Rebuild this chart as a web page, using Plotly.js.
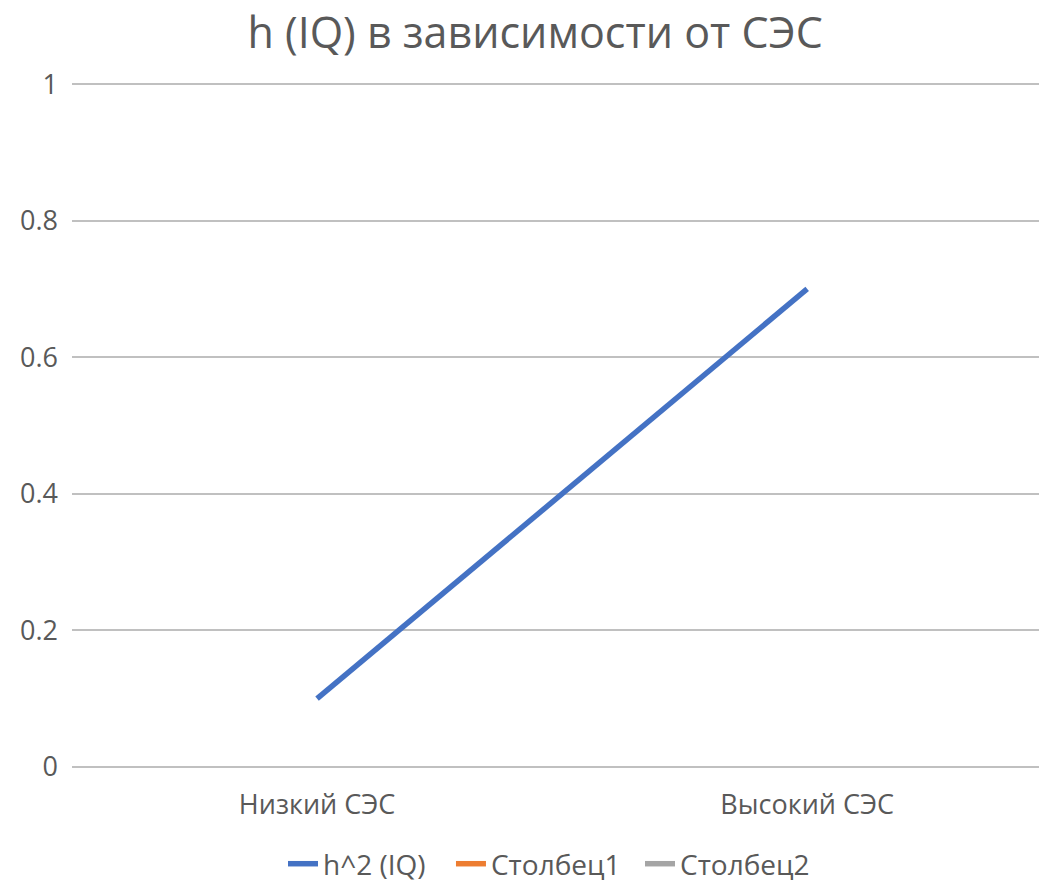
<!DOCTYPE html>
<html>
<head>
<meta charset="utf-8">
<script src="https://cdn.plot.ly/plotly-3.0.1.min.js"></script>
<style>html,body{margin:0;padding:0;background:#fff;}#chart{width:1039px;height:883px;}</style>
</head>
<body>
<div id="chart"></div>
<script>
const categories = ["Низкий СЭС", "Высокий СЭС"];
const h2IQ = [0.1, 0.7];
const stolbets1 = [null, null];
const stolbets2 = [null, null];
const seriesNames = ["h^2 (IQ)", "Столбец1", "Столбец2"];
const yTicks = [0, 0.2, 0.4, 0.6, 0.8, 1];
const yTickLabels = ["0", "0.2", "0.4", "0.6", "0.8", "1"];

const FONT = '"Open Sans", "Noto Sans", sans-serif';
const GREY = '#595959';

const traces = [
  {x: categories, y: h2IQ, name: seriesNames[0], type: 'scatter', mode: 'lines',
   line: {color: '#4472C4', width: 5.5}, legend: 'legend'},
  {x: categories, y: stolbets1, name: seriesNames[1], type: 'scatter', mode: 'lines',
   line: {color: '#ED7D31', width: 5.5}, legend: 'legend2'},
  {x: categories, y: stolbets2, name: seriesNames[2], type: 'scatter', mode: 'lines',
   line: {color: '#A5A5A5', width: 5.5}, legend: 'legend3'}
];

function legendAt(x) {
  return {orientation: 'h', x: x, xanchor: 'left', y: -0.1383, yanchor: 'middle',
          bgcolor: 'rgba(0,0,0,0)',
          font: {family: FONT, size: 28, color: GREY}, itemwidth: 30};
}

const layout = {
  width: 1039, height: 883,
  margin: {l: 72, r: 0, t: 82, b: 114, autoexpand: false},
  paper_bgcolor: '#fff', plot_bgcolor: '#fff',
  font: {family: FONT, color: GREY, size: 27},
  title: {text: 'h (IQ) в зависимости от СЭС', font: {family: FONT, size: 43, color: GREY},
          x: 0.515, xanchor: 'center', y: 0.963, yanchor: 'middle', yref: 'container'},
  xaxis: {type: 'category', range: [-0.5, 1.473], showgrid: false, zeroline: false,
          showline: false, ticks: '', ticklabelstandoff: 17, automargin: false,
          tickfont: {family: FONT, size: 27, color: GREY}, fixedrange: true},
  yaxis: {range: [-0.003, 1.003], tickvals: yTicks, ticktext: yTickLabels, showgrid: true,
          gridcolor: '#C0C0C0', gridwidth: 2, zeroline: false, showline: false,
          ticks: '', ticklabelstandoff: 13, automargin: false,
          tickfont: {family: FONT, size: 27, color: GREY}, fixedrange: true},
  showlegend: true,
  legend: legendAt(0.2182),
  legend2: legendAt(0.3919),
  legend3: legendAt(0.5874)
};

Plotly.newPlot('chart', traces, layout, {displayModeBar: false, staticPlot: true});
</script>
</body>
</html>
